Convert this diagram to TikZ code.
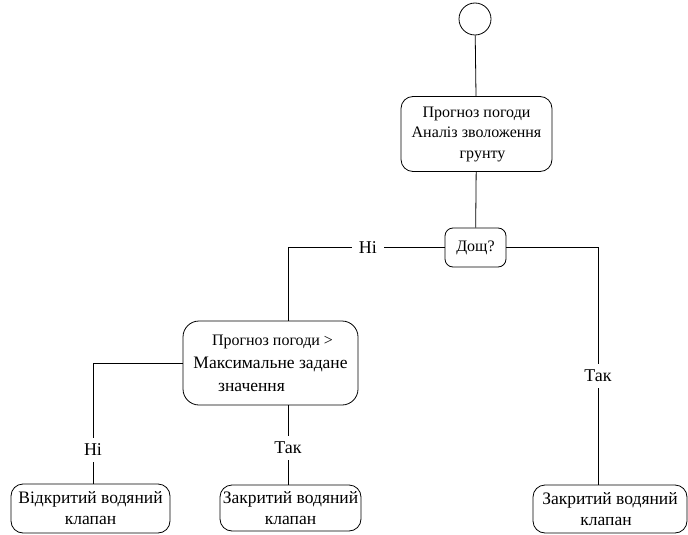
\documentclass[tikz,border=0pt]{standalone}
\usepackage{fontspec}
\setmainfont{Liberation Serif}
\newcommand{\sizeA}{\fontsize{16}{20.5}\selectfont}
\newcommand{\sizeB}{\fontsize{17.5}{21}\selectfont}
\begin{document}
\begin{tikzpicture}[x=1pt,y=-1pt,
  every node/.style={font=\sizeA},
  flowbox/.style={draw,rounded corners=12pt,align=center,inner sep=2pt,line width=0.8pt},
  conn/.style={line width=0.8pt},
  lbl/.style={fill=white,inner xsep=7pt,inner ysep=6pt,font=\fontsize{18}{20}\selectfont}]
\useasboundingbox (0,0) rectangle (688,535);
% start point
\node[draw,circle,minimum size=32pt,inner sep=0pt,line width=0.8pt] (start) at (475,19) {};
% analysis step
\node[flowbox,minimum width=151pt,minimum height=75pt] (anal) at (476.5,134)
  {Прогноз погоди\\Аналіз зволоження\\\hspace*{12pt}грунту};
% rain decision
\node[flowbox,rounded corners=8pt,minimum width=61pt,minimum height=39pt] (rain) at (475.5,247.5) {Дощ?};
% forecast comparison
\node[flowbox,rounded corners=16pt,minimum width=175pt,minimum height=84pt,font=\fontsize{16}{23}\selectfont] (cmp) at (270.5,363)
  {\hspace*{4pt}Прогноз погоди >\\{\sizeB Максимальне задане}\\\hspace*{-38pt}{\sizeB значення}};
% valve states
\node[flowbox,minimum width=159pt,minimum height=49pt,font=\sizeB] (open) at (90.5,508.5)
  {Відкритий водяний\\клапан};
\node[flowbox,minimum width=141pt,minimum height=46pt,font=\sizeB] (closeA) at (290.5,508)
  {Закритий водяний\\клапан};
\node[flowbox,minimum width=154pt,minimum height=48pt,font=\sizeB] (closeB) at (610,509)
  {Закритий водяний\\\hspace*{-8pt}клапан};
% connectors
\draw[conn] (start) -- (anal);
\draw[conn] (anal) -- (rain);
\draw[conn] (rain.west) -| ([xshift=17.5pt]cmp.north) node[lbl,pos=0.245] (noA) {Ні};
\draw[conn] (rain.east) -| ([xshift=-12pt]closeB.north) node[lbl,pos=0.77] (yesA) {Так};
\draw[conn] (cmp.west) -| ([xshift=2.5pt]open.north) node[lbl,pos=0.86] (noB) {Ні};
\draw[conn] ([xshift=17.5pt]cmp.south) -- ([xshift=-2.5pt]closeA.north) node[lbl,pos=0.54] (yesB) {Так};
\end{tikzpicture}
\end{document}
